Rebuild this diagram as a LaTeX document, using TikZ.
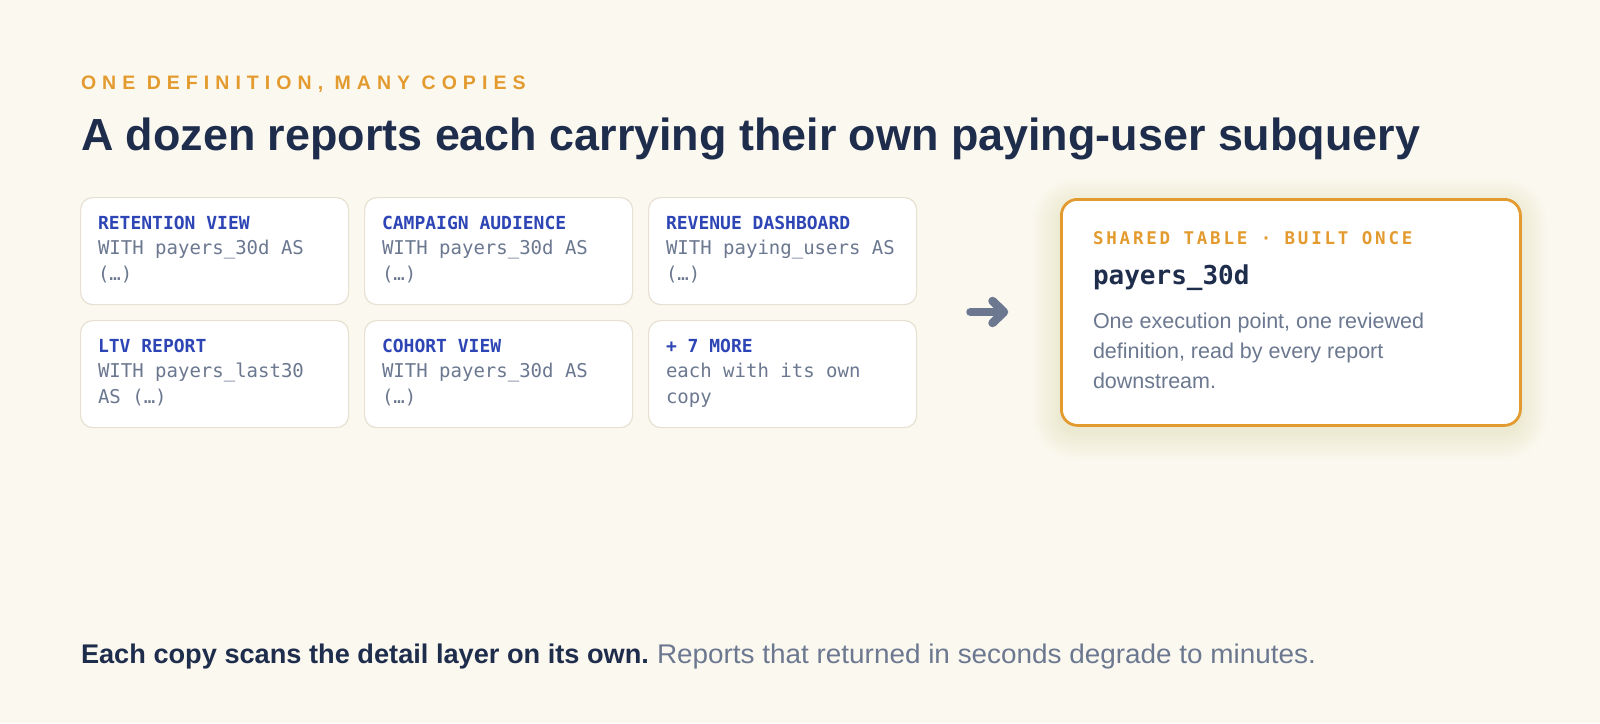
\documentclass[tikz,border=0pt]{standalone}
\usepackage{fontspec}
\setmainfont{Liberation Sans}
\newfontfamily\monof{DejaVu Sans Mono}
\newfontfamily\monokick[LetterSpace=16]{DejaVu Sans Mono}
\newfontfamily\kickf[LetterSpace=31]{Liberation Sans}
\usetikzlibrary{calc}
\definecolor{bgc}{HTML}{FBF8EF}
\definecolor{orng}{HTML}{E39B2F}
\definecolor{navy}{HTML}{1F2D4D}
\definecolor{monoblue}{HTML}{2D45B5}
\definecolor{graytxt}{HTML}{6B7890}
\definecolor{cardline}{HTML}{E7E1D3}
\definecolor{glow}{HTML}{EDB98A}
\definecolor{arrowc}{HTML}{6B7890}
\tikzset{
  card/.style={draw=cardline, line width=1.2pt, fill=white, rounded corners=12pt,
    minimum width=268pt, minimum height=107pt, anchor=north west, inner sep=0pt},
  sharedbox/.style={draw=orng, line width=2.8pt, fill=white, rounded corners=16pt,
    minimum width=459pt, minimum height=226pt, anchor=north west, inner sep=0pt},
  txt/.style={anchor=base west, inner sep=0pt, outer sep=0pt},
  cardtitle/.style={txt, text=monoblue, font=\monof\bfseries\fontsize{18}{22}\selectfont},
  cardbody/.style={txt, text=graytxt, font=\monof\fontsize{19}{23}\selectfont},
  conn/.style={draw=arrowc, line width=8.5pt, line cap=round, line join=round}
}
\begin{document}
\begin{tikzpicture}[x=1pt,y=-1pt]
\fill[bgc] (0,0) rectangle (1600,723);
\useasboundingbox (0,0) rectangle (1600,723);

% kicker and title
\node[txt, text=orng, font=\kickf\bfseries\fontsize{19.5}{23}\selectfont] (kick) at (81,89) {ONE DEFINITION, MANY COPIES};
\node[txt, text=navy] (title) at (81,150) {\resizebox{1339pt}{\height}{\bfseries\fontsize{45}{52}\selectfont A dozen reports each carrying their own paying-user subquery}};

% cards
\node[card] (c1) at (80,197) {};
\node[card] (c2) at (364,197) {};
\node[card] (c3) at (648,197) {};
\node[card] (c4) at (80,320) {};
\node[card] (c5) at (364,320) {};
\node[card] (c6) at (648,320) {};

\foreach \c/\t/\a/\b in {c1/RETENTION VIEW/WITH payers\_30d AS/(…),
                         c2/CAMPAIGN AUDIENCE/WITH payers\_30d AS/(…),
                         c3/REVENUE DASHBOARD/WITH paying\_users AS/(…),
                         c4/LTV REPORT/WITH payers\_last30/AS (…),
                         c5/COHORT VIEW/WITH payers\_30d AS/(…),
                         c6/+ 7 MORE/each with its own/copy}{
  \node[cardtitle] (\c t) at ([shift={(18,32)}]\c.north west) {\t};
  \node[cardbody] (\c a) at ([shift={(18,57)}]\c.north west) {\a};
  \node[cardbody] (\c b) at ([shift={(18,83)}]\c.north west) {\b};
}

% glow behind shared box
\foreach \i in {1,...,14}{
  \fill[glow, opacity=0.014, rounded corners={16pt+2*\i pt}]
    (1060-2*\i,198-2*\i+8) rectangle (1519+2*\i,424+2*\i+8);
}
\node[sharedbox] (sb) at (1060,198) {};
\node[txt, text=orng, font=\monokick\bfseries\fontsize{17.5}{20}\selectfont] (sbk) at (1093,244) {SHARED TABLE · BUILT ONCE};
\node[txt, text=navy, font=\monof\bfseries\fontsize{26}{30}\selectfont] (sbt) at (1093,284) {payers\_30d};
\node[txt, text=graytxt, font=\fontsize{21.5}{30}\selectfont] (sbd1) at (1093,328) {One execution point, one reviewed};
\node[txt, text=graytxt, font=\fontsize{21.5}{30}\selectfont] (sbd2) at (1093,358) {definition, read by every report};
\node[txt, text=graytxt, font=\fontsize{21.5}{30}\selectfont] (sbd3) at (1093,388) {downstream.};

% arrow
\coordinate (as) at (970.5,312);
\coordinate (ae) at (1004,312);
\draw[conn] (as) -- ($(ae)+(-3,0)$);
\draw[conn] ($(ae)+(-11.5,-11)$) -- (ae) -- ($(ae)+(-11.5,11)$);

% bottom line
\node[txt, text=navy] (foot1) at (81,663) {\resizebox{568pt}{\height}{\bfseries\fontsize{27}{32}\selectfont Each copy scans the detail layer on its own.}};
\node[txt, text=graytxt] (foot2) at (657,663) {\resizebox{659pt}{\height}{\fontsize{27}{32}\selectfont Reports that returned in seconds degrade to minutes.}};
\end{tikzpicture}
\end{document}
